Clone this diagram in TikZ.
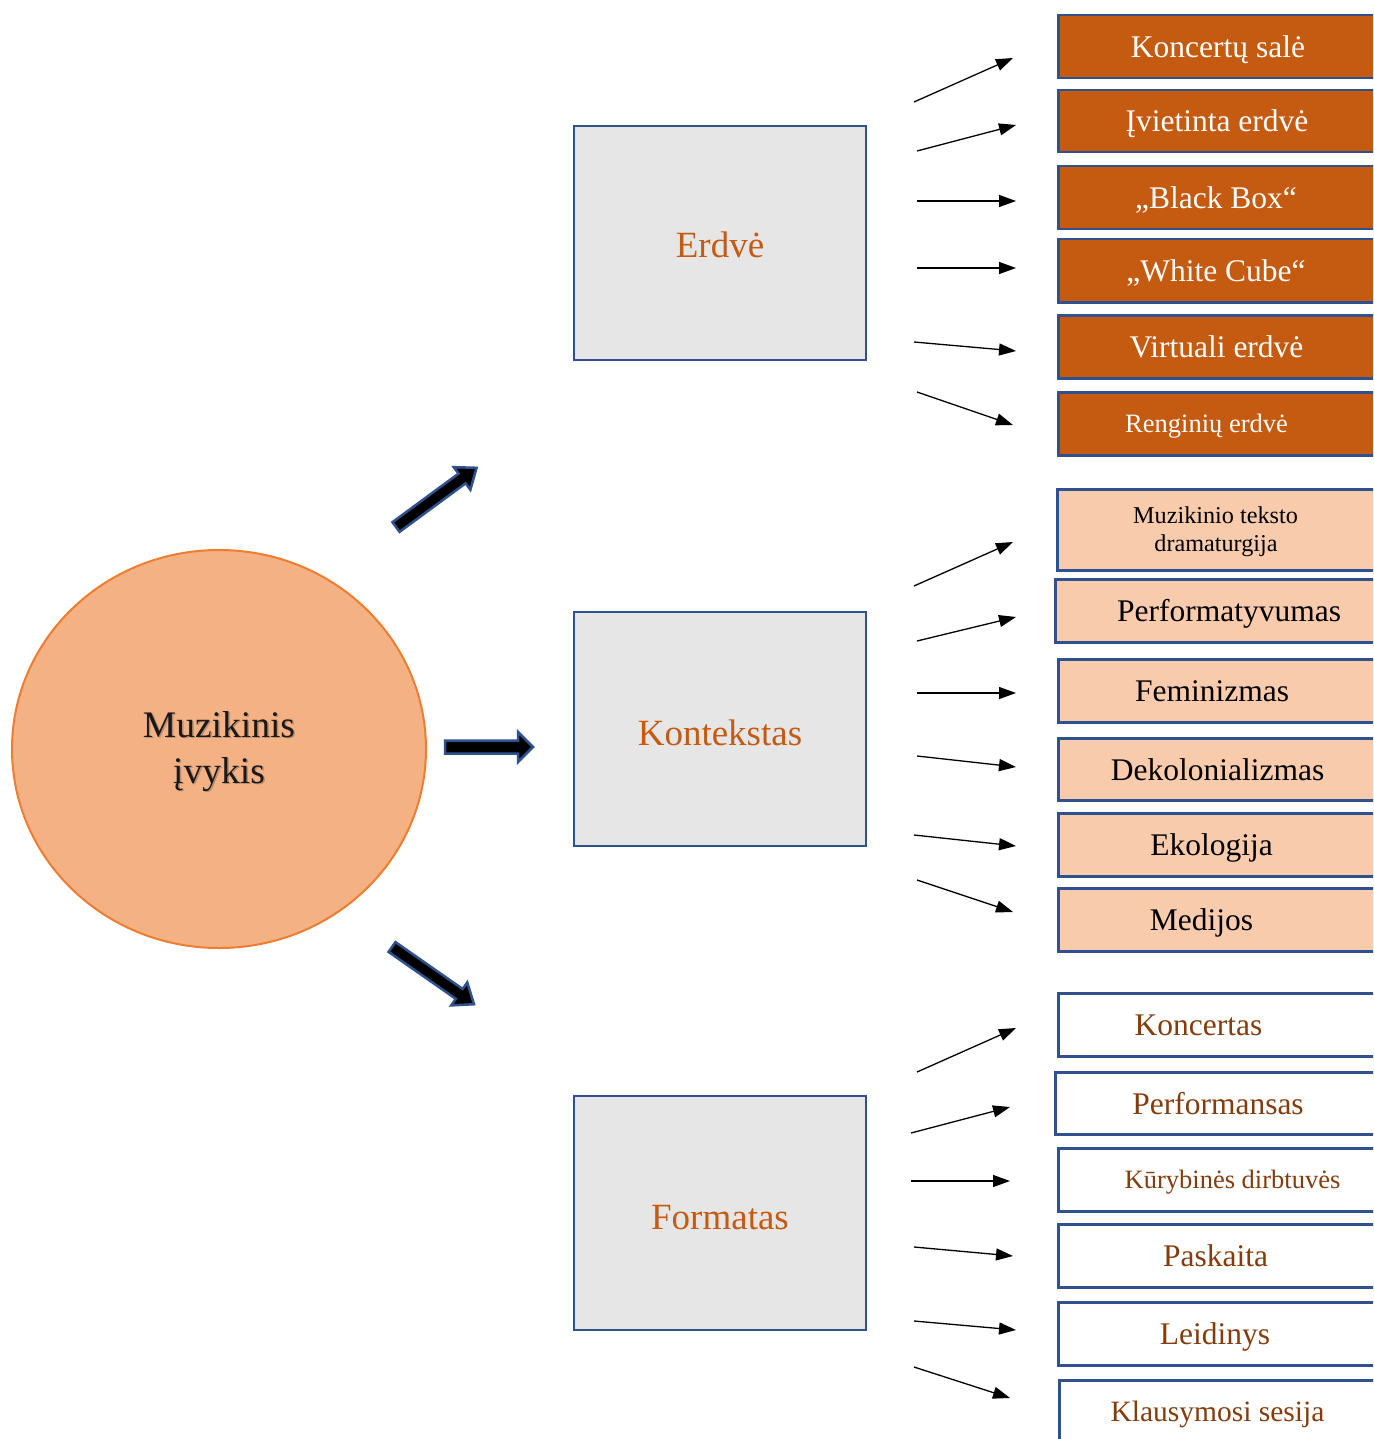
\documentclass[tikz,border=0pt]{standalone}
\usepackage{fontspec}
\setmainfont{Liberation Serif}
\usetikzlibrary{arrows.meta,shapes.geometric}
\definecolor{edgeblue}{HTML}{2F528F}
\definecolor{darkor}{HTML}{C55A11}
\definecolor{lightor}{HTML}{F8CBAD}
\definecolor{midgray}{HTML}{E7E6E6}
\definecolor{circfill}{HTML}{F4B183}
\definecolor{circedge}{HTML}{ED7D31}
\definecolor{browntxt}{HTML}{843C0C}
\tikzset{
  rbox/.style={draw=edgeblue, line width=2.5pt, anchor=north west, inner sep=0pt},
  darkbox/.style={rbox, fill=darkor},
  lightbox/.style={rbox, fill=lightor},
  whitebox/.style={rbox, fill=white},
  mbox/.style={draw=edgeblue, line width=2.5pt, fill=midgray, minimum width=292pt, minimum height=234pt, inner sep=0pt},
  mlbl/.style={anchor=base, inner sep=0pt, text=darkor, font=\fontsize{37}{44}\selectfont},
  lbl/.style={anchor=base, inner sep=0pt, font=\fontsize{31.5}{36}\selectfont},
  slbl/.style={anchor=base, inner sep=0pt, font=\fontsize{26.5}{30}\selectfont},
  wlbl/.style={lbl, text=white},
  blbl/.style={lbl, text=black},
  brlbl/.style={lbl, text=browntxt},
  clbl/.style={anchor=base, inner sep=0pt, font=\fontsize{37.5}{46}\selectfont},
  thinarr/.style={line width=1.3pt, -{Triangle[length=17pt,width=12pt]}},
  blockarr/.style={draw=edgeblue, line width=2.5pt, fill=black, line join=miter}
}
\begin{document}
\begin{tikzpicture}[x=1pt,y=-1pt]
\useasboundingbox (0,0) rectangle (1373,1439);
\fill[white] (0,0) rectangle (1373,1439);

% central ellipse
\node[ellipse, draw=circedge, line width=2pt, fill=circfill, minimum width=414pt, minimum height=398pt, inner sep=0pt] (event) at (219,749) {};
\node[clbl, text=black!70, opacity=0.35] (evs1) at (220.5,738.5) {Muzikinis};
\node[clbl, text=black!70, opacity=0.35] (evs2) at (220.5,784.5) {įvykis};
\node[clbl, text=black!90] (ev1) at (219,737) {Muzikinis};
\node[clbl, text=black!90] (ev2) at (219,783) {įvykis};

% block arrows
\begin{scope}[shift={(396,527)}, rotate=36.3]
\draw[blockarr] (0,-6) -- (82,-6) -- (82,-14) -- (100,0) -- (82,14) -- (82,6) -- (0,6) -- cycle;
\end{scope}
\begin{scope}[shift={(445,747)}]
\draw[blockarr] (0,-6.5) -- (73,-6.5) -- (73,-15) -- (88,0) -- (73,15) -- (73,6.5) -- (0,6.5) -- cycle;
\end{scope}
\begin{scope}[shift={(392,947)}, rotate=-34.9]
\draw[blockarr] (0,-6) -- (82,-6) -- (82,-14) -- (100,0) -- (82,14) -- (82,6) -- (0,6) -- cycle;
\end{scope}

% middle boxes
\node[mbox] (erdve) at (720,243) {};
\node[mlbl] (erdvet) at (720,258) {Erdvė};
\node[mbox] (kont) at (720,729) {};
\node[mlbl] (kontt) at (720,745) {Kontekstas};
\node[mbox] (form) at (720,1213) {};
\node[mlbl] (formt) at (720,1229) {Formatas};

\begin{scope}
\clip (0,0) rectangle (1373,1439);
% Erdve group
\node[darkbox, minimum width=340pt, minimum height=63pt] (e1) at (1057,14) {};
\node[wlbl] (e1t) at (1218,58) {Koncertų salė};
\node[darkbox, minimum width=340pt, minimum height=62pt] (e2) at (1057,89) {};
\node[wlbl] (e2t) at (1217,132) {Įvietinta erdvė};
\node[darkbox, minimum width=340pt, minimum height=63pt] (e3) at (1057,165) {};
\node[wlbl] (e3t) at (1216,208.5) {„Black Box“};
\node[darkbox, minimum width=340pt, minimum height=63pt] (e4) at (1057,238) {};
\node[wlbl] (e4t) at (1216,281.5) {„White Cube“};
\node[darkbox, minimum width=340pt, minimum height=63pt] (e5) at (1057,314) {};
\node[wlbl] (e5t) at (1216.5,357.5) {Virtuali erdvė};
\node[darkbox, minimum width=340pt, minimum height=63pt] (e6) at (1057,391) {};
\node[slbl, text=white] (e6t) at (1206.5,432) {Renginių erdvė};

% Kontekstas group
\node[lightbox, minimum width=340pt, minimum height=81pt] (k1) at (1056,488) {};
\node[anchor=base, inner sep=0pt, font=\fontsize{24.2}{28}\selectfont] (k1t) at (1215.5,523.5) {Muzikinio teksto};
\node[anchor=base, inner sep=0pt, font=\fontsize{24.2}{28}\selectfont] (k1u) at (1216,551.5) {dramaturgija};
\node[lightbox, minimum width=340pt, minimum height=63pt] (k2) at (1054,578) {};
\node[blbl] (k2t) at (1229,621.5) {Performatyvumas};
\node[lightbox, minimum width=340pt, minimum height=63pt] (k3) at (1057,658) {};
\node[blbl] (k3t) at (1212,701.5) {Feminizmas};
\node[lightbox, minimum width=340pt, minimum height=62pt] (k4) at (1057,737) {};
\node[blbl] (k4t) at (1217.5,780) {Dekolonializmas};
\node[lightbox, minimum width=340pt, minimum height=63pt] (k5) at (1057,812) {};
\node[blbl] (k5t) at (1211.5,855.5) {Ekologija};
\node[lightbox, minimum width=340pt, minimum height=63pt] (k6) at (1057,887) {};
\node[blbl] (k6t) at (1201.5,930.5) {Medijos};

% Formatas group
\node[whitebox, minimum width=340pt, minimum height=63pt] (f1) at (1057,992) {};
\node[brlbl] (f1t) at (1198.5,1035.5) {Koncertas};
\node[whitebox, minimum width=340pt, minimum height=62pt] (f2) at (1054,1071) {};
\node[brlbl] (f2t) at (1218,1114) {Performansas};
\node[whitebox, minimum width=340pt, minimum height=63pt] (f3) at (1057,1147) {};
\node[slbl, text=browntxt] (f3t) at (1232.5,1188) {Kūrybinės dirbtuvės};
\node[whitebox, minimum width=340pt, minimum height=63pt] (f4) at (1057,1223) {};
\node[brlbl] (f4t) at (1215.5,1266.5) {Paskaita};
\node[whitebox, minimum width=340pt, minimum height=63pt] (f5) at (1057,1301) {};
\node[brlbl] (f5t) at (1215,1344.5) {Leidinys};
\node[whitebox, minimum width=340pt, minimum height=80pt] (f6) at (1058,1379) {};
\node[lbl, text=browntxt, font=\fontsize{29.5}{34}\selectfont] (f6t) at (1217.5,1421) {Klausymosi sesija};
\end{scope}

% thin arrow coordinates
\coordinate (sE1) at (914,102);  \coordinate (eE1) at (1013,58);
\coordinate (sE2) at (917,151);  \coordinate (eE2) at (1016,125);
\coordinate (sE3) at (917,201);  \coordinate (eE3) at (1016,201);
\coordinate (sE4) at (917,268);  \coordinate (eE4) at (1016,268);
\coordinate (sE5) at (914,342);  \coordinate (eE5) at (1016,351);
\coordinate (sE6) at (917,392);  \coordinate (eE6) at (1013,425);
\coordinate (sK1) at (914,586);  \coordinate (eK1) at (1013,542);
\coordinate (sK2) at (917,641);  \coordinate (eK2) at (1016,617);
\coordinate (sK3) at (917,693);  \coordinate (eK3) at (1016,693);
\coordinate (sK4) at (917,756);  \coordinate (eK4) at (1016,767);
\coordinate (sK5) at (914,835);  \coordinate (eK5) at (1016,846);
\coordinate (sK6) at (917,880);  \coordinate (eK6) at (1013,912);
\coordinate (sF1) at (917,1072); \coordinate (eF1) at (1016,1028);
\coordinate (sF2) at (911,1133); \coordinate (eF2) at (1010,1107);
\coordinate (sF3) at (911,1181); \coordinate (eF3) at (1010,1181);
\coordinate (sF4) at (914,1247); \coordinate (eF4) at (1013,1256);
\coordinate (sF5) at (914,1321); \coordinate (eF5) at (1016,1330);
\coordinate (sF6) at (914,1367); \coordinate (eF6) at (1010,1398);
\foreach \g in {E,K,F}{
  \foreach \i in {1,...,6}{
    \draw[thinarr] (s\g\i) -- (e\g\i);
  }
}
\end{tikzpicture}
\end{document}
